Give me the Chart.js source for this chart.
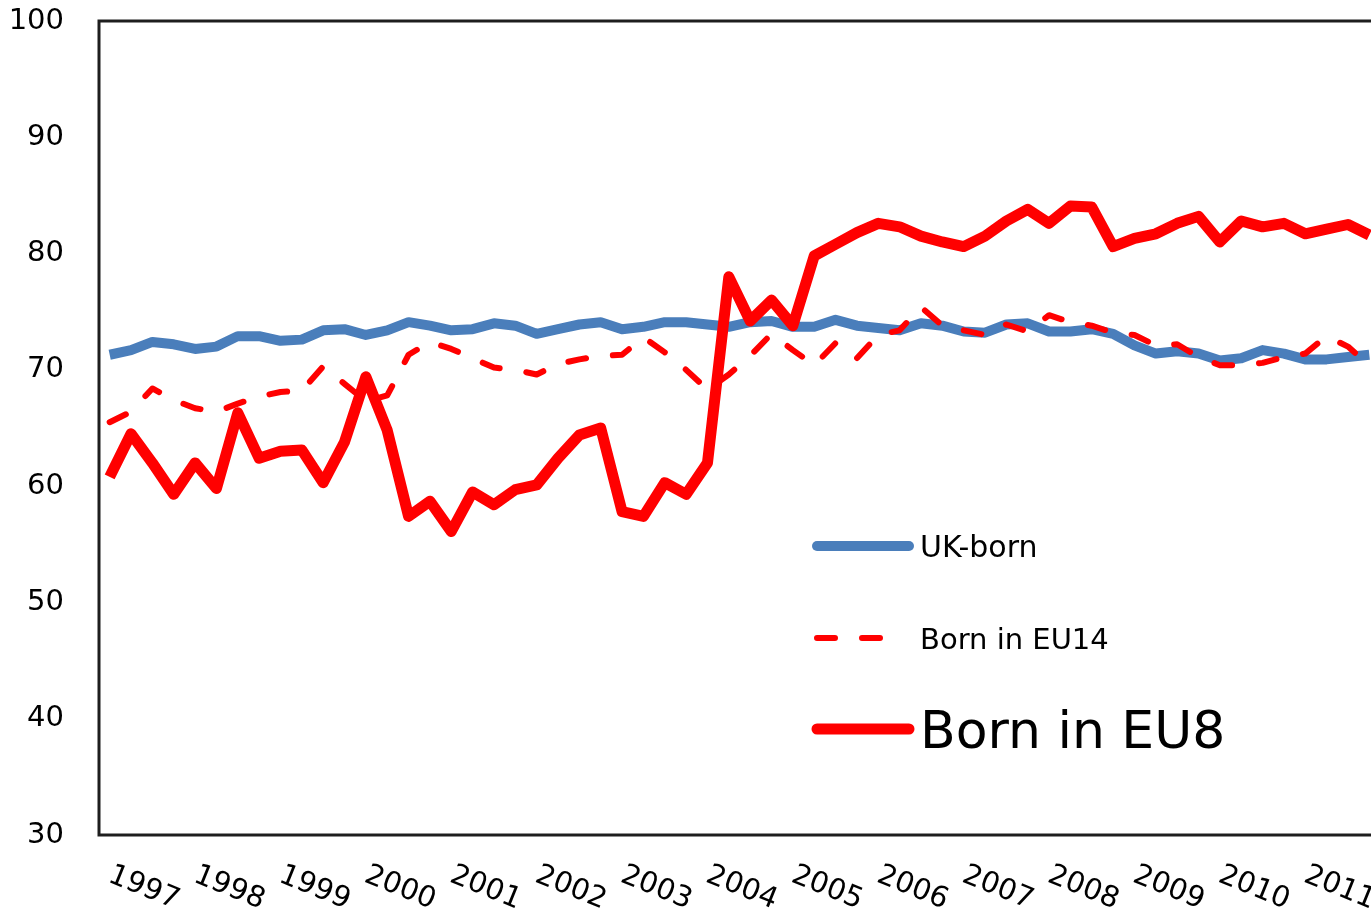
<!DOCTYPE html>
<html>
<head>
<meta charset="utf-8">
<script src="https://cdn.jsdelivr.net/npm/chart.js@4/dist/chart.umd.min.js"></script>
<style>
  html, body { margin: 0; padding: 0; background: #fff; overflow: hidden; }
  #wrap { width: 1390px; height: 916px; }
</style>
</head>
<body>
<div id="wrap"><canvas id="myLineChart" width="1390" height="916"></canvas></div>
<script>
const ctx = document.getElementById("myLineChart");

// one label per year, data is quarterly
const years = [1997, 1998, 1999, 2000, 2001, 2002, 2003, 2004, 2005, 2006, 2007, 2008, 2009, 2010, 2011];
const quarters = ["Q1", "Q2", "Q3", "Q4"];
const yTicks = [30, 40, 50, 60, 70, 80, 90, 100];

const ukBorn = [
  71.3, 71.7, 72.4, 72.2, 71.8, 72.0, 72.9, 72.9, 72.5, 72.6,
  73.4, 73.5, 73.0, 73.4, 74.1, 73.8, 73.4, 73.5, 74.0, 73.8,
  73.1, 73.5, 73.9, 74.1, 73.5, 73.7, 74.1, 74.1, 73.9, 73.7,
  74.1, 74.2, 73.7, 73.7, 74.3, 73.8, 73.6, 73.4, 74.0, 73.8,
  73.3, 73.2, 73.9, 74.0, 73.3, 73.3, 73.5, 73.1, 72.1, 71.4,
  71.6, 71.4, 70.8, 71.0, 71.7, 71.4, 70.9, 70.9, 71.1, 71.3
];
const bornEU14 = [
  65.5, 66.4, 68.4, 67.4, 66.7, 66.4, 67.1, 67.7, 68.1, 68.2,
  70.3, 68.8, 67.3, 67.8, 71.3, 72.4, 71.8, 71.0, 70.2, 70.0,
  69.6, 70.5, 70.9, 71.2, 71.3, 72.8, 71.5, 70.0, 68.3, 69.6,
  71.2, 73.1, 71.7, 70.4, 72.3, 71.0, 73.0, 73.4, 75.4, 73.8,
  73.4, 73.0, 73.9, 73.3, 74.7, 74.1, 73.8, 73.2, 73.0, 72.1,
  72.2, 71.1, 70.4, 70.4, 70.6, 71.1, 71.4, 72.9, 72.0, 70.4
];
const bornEU8 = [
  60.8, 64.5, 62.0, 59.3, 62.0, 59.8, 66.3, 62.4, 63.0, 63.1,
  60.3, 63.8, 69.4, 64.8, 57.4, 58.7, 56.1, 59.5, 58.4, 59.7,
  60.1, 62.4, 64.4, 65.0, 57.8, 57.4, 60.3, 59.3, 62.0, 78.0,
  74.2, 76.0, 73.8, 79.8, 80.8, 81.8, 82.6, 82.3, 81.5, 81.0,
  80.6, 81.5, 82.8, 83.8, 82.6, 84.1, 84.0, 80.6, 81.3, 81.7,
  82.6, 83.2, 81.0, 82.8, 82.3, 82.6, 81.7, 82.1, 82.5, 81.6
];

const categories = [];
years.forEach((y) => quarters.forEach((q) => categories.push(y + " " + q)));

const FONT = "DejaVu Sans";

// box round the plot area
const framePlugin = {
  id: "frame",
  beforeDatasetsDraw(chart) {
    const a = chart.chartArea;
    const c = chart.ctx;
    c.save();
    c.strokeStyle = "#1e1e1e";
    c.lineWidth = 3;
    c.strokeRect(a.left, a.top, a.right - a.left, a.bottom - a.top);
    c.restore();
  },
};

// year labels slanting down to the right, like the excel original
const yearLabels = {
  id: "yearLabels",
  afterDraw(chart) {
    const xs = chart.scales.x;
    const c = chart.ctx;
    const step = xs.getPixelForValue(1) - xs.getPixelForValue(0);
    c.save();
    c.fillStyle = "#000";
    c.font = "29px '" + FONT + "'";
    c.textAlign = "center";
    c.textBaseline = "middle";
    years.forEach((yr, k) => {
      const x = xs.getPixelForValue(k * 4) + step * 1.6;
      const y = chart.chartArea.bottom + 53;
      c.save();
      c.translate(x, y);
      c.rotate((22 * Math.PI) / 180);
      c.fillText(String(yr), 0, 0);
      c.restore();
    });
    c.restore();
  },
};

// legend inside the plot, each entry with its own text size
const legendItems = [
  { lineY: 546, textY: 557, size: 30 },
  { lineY: 638, textY: 649, size: 29 },
  { lineY: 729, textY: 748, size: 52 },
];
const insideLegend = {
  id: "insideLegend",
  afterDatasetsDraw(chart) {
    const c = chart.ctx;
    chart.data.datasets.forEach((ds, i) => {
      const it = legendItems[i];
      c.save();
      c.strokeStyle = ds.borderColor;
      c.lineWidth = ds.borderWidth;
      c.lineCap = "round";
      c.setLineDash(ds.borderDash || []);
      c.beginPath();
      c.moveTo(817, it.lineY);
      c.lineTo(ds.borderDash ? 884 : 909, it.lineY);
      c.stroke();
      c.setLineDash([]);
      c.fillStyle = "#000";
      c.font = it.size + "px '" + FONT + "'";
      c.textBaseline = "alphabetic";
      c.fillText(ds.label, 920, it.textY);
      c.restore();
    });
  },
};

new Chart(ctx, {
  type: "line",
  data: {
    labels: categories,
    datasets: [
      {
        label: "UK-born",
        data: ukBorn,
        borderColor: "#4a7ebb",
        borderWidth: 10,
        order: 3,
      },
      {
        label: "Born in EU14",
        data: bornEU14,
        borderColor: "#ff0000",
        borderWidth: 6,
        borderDash: [18, 27],
        borderCapStyle: "round",
        order: 2,
      },
      {
        label: "Born in EU8",
        data: bornEU8,
        borderColor: "#ff0000",
        borderWidth: 11,
        order: 1,
      },
    ],
  },
  options: {
    responsive: false,
    animation: false,
    layout: { padding: { top: 21, right: 10, left: 0, bottom: 0 } },
    elements: {
      point: { radius: 0, hoverRadius: 0 },
      line: { tension: 0, borderJoinStyle: "round" },
    },
    plugins: {
      legend: { display: false },
      tooltip: { enabled: false },
    },
    scales: {
      x: {
        type: "category",
        offset: true,
        grid: { display: false, drawTicks: false },
        border: { display: false },
        ticks: { display: false },
        afterFit: (s) => {
          s.height = 81;
          s.paddingLeft = 0;
          s.paddingRight = 0;
        },
      },
      y: {
        min: 30,
        max: 100,
        afterBuildTicks: (s) => {
          s.ticks = yTicks.map((v) => ({ value: v }));
        },
        ticks: {
          padding: 35,
          color: "#000",
          font: { family: FONT, size: 29 },
        },
        grid: { display: false, drawTicks: false },
        border: { display: false },
        afterFit: (s) => {
          s.width = 99;
          s.paddingTop = 0;
          s.paddingBottom = 0;
        },
      },
    },
  },
  plugins: [framePlugin, yearLabels, insideLegend],
});
</script>
</body>
</html>
